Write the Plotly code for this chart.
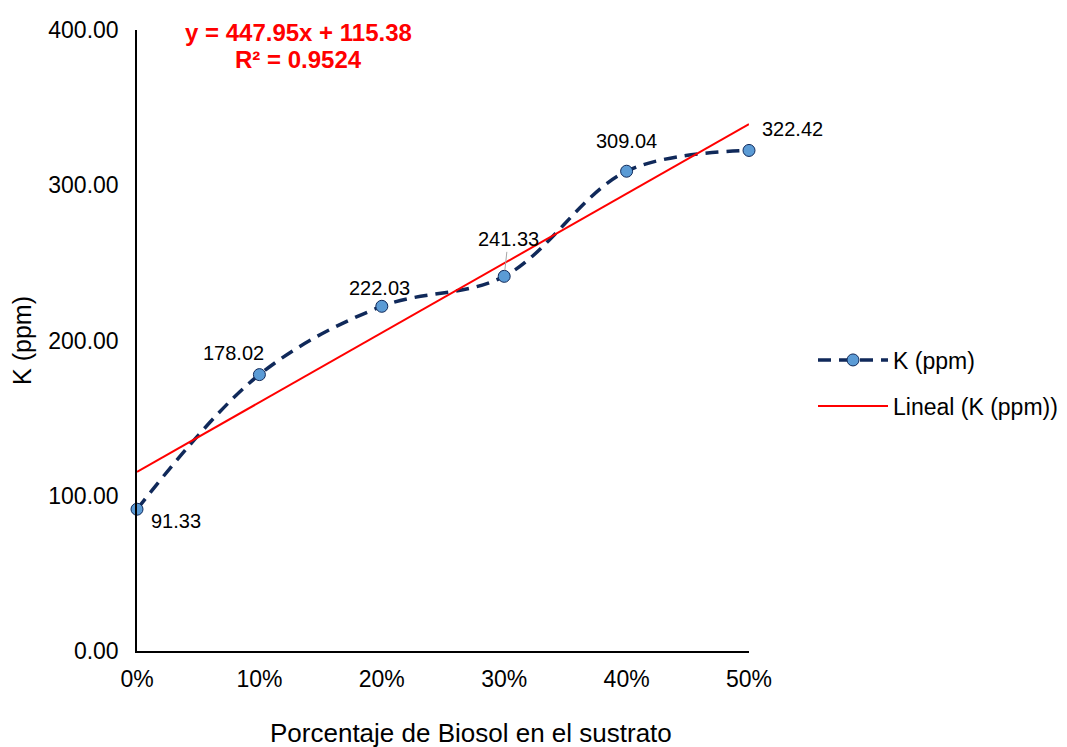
import plotly.graph_objects as go

# Data: potassium content vs. Biosol percentage in the substrate
biosol_pct = [0.0, 0.1, 0.2, 0.3, 0.4, 0.5]
k_ppm = [91.33, 178.02, 222.03, 241.33, 309.04, 322.42]
x_ticks = [0.0, 0.1, 0.2, 0.3, 0.4, 0.5]
y_ticks = [0, 100, 200, 300, 400]

# Linear trend reported on the chart
slope = 447.95
intercept = 115.38
r_squared = 0.9524

trend_x = [biosol_pct[0], biosol_pct[-1]]
trend_y = [slope * v + intercept for v in trend_x]

NAVY = "#10295A"
MARKER = "#5B9BD5"
RED = "#FF0000"
FONT = "Liberation Sans, Arial, sans-serif"

fig = go.Figure()

fig.add_trace(go.Scatter(
    x=biosol_pct, y=k_ppm, mode="lines+markers", name="K (ppm)",
    line=dict(color=NAVY, width=3.5, dash="13px,8px", shape="spline", smoothing=1.0),
    marker=dict(color=MARKER, size=12, line=dict(color=NAVY, width=1)),
    cliponaxis=False, legend="legend",
))

fig.add_trace(go.Scatter(
    x=trend_x, y=trend_y, mode="lines", name="Lineal (K (ppm))",
    line=dict(color=RED, width=2), cliponaxis=False, legend="legend2",
))

# Data labels: (x shift, y shift) per point; the 30% label has a leader line
label_offsets = [(39, -12), (-26, 22), (-2, 18), (4, 37), (0, 30), (43, 21)]
for i, (xv, yv, (dx, dy)) in enumerate(zip(biosol_pct, k_ppm, label_offsets)):
    if i == 3:
        fig.add_annotation(
            x=xv, y=yv, text=f"{yv:.2f}", showarrow=True, arrowhead=0,
            arrowcolor="#A6A6A6", arrowwidth=1, ax=dx, ay=-dy, standoff=6,
            font=dict(family=FONT, size=20, color="#000000"),
        )
    else:
        fig.add_annotation(
            x=xv, y=yv, text=f"{yv:.2f}", showarrow=False,
            xshift=dx, yshift=dy,
            font=dict(family=FONT, size=20, color="#000000"),
        )

# Trendline equation, two lines
eq_lines = [f"<b>y = {slope:.2f}x + {intercept:.2f}</b>", f"<b>R² = {r_squared:.4f}</b>"]
for text, ypos in zip(eq_lines, [0.9952, 0.9517]):
    fig.add_annotation(
        xref="paper", yref="paper", x=0.2647, y=ypos, xanchor="center", yanchor="middle",
        text=text, showarrow=False,
        font=dict(family=FONT, size=24, color=RED),
    )

# Horizontal axis title
fig.add_annotation(
    xref="paper", yref="paper", x=0.545, y=-0.132, xanchor="center", yanchor="middle",
    text="Porcentaje de Biosol en el sustrato", showarrow=False,
    font=dict(family=FONT, size=26, color="#000000"),
)

LEG_X = 813 / 1067

fig.update_layout(
    width=1067, height=747,
    margin=dict(l=137, r=318, t=30, b=96),
    paper_bgcolor="white", plot_bgcolor="white",
    font=dict(family=FONT, color="#000000"),
    xaxis=dict(
        range=[0, 0.5], tickvals=x_ticks, tickformat=".0%", automargin=False,
        showgrid=False, zeroline=False, showline=True, linecolor="#000000", linewidth=1.5,
        ticks="", ticklabelstandoff=7,
        tickfont=dict(family=FONT, size=23),
    ),
    yaxis=dict(
        range=[0, 400], tickvals=y_ticks, tickformat=".2f", automargin=False,
        showgrid=False, zeroline=False, showline=True, linecolor="#000000", linewidth=1.5,
        ticks="", ticklabelstandoff=12,
        tickfont=dict(family=FONT, size=23),
        title=dict(text="K (ppm)", font=dict(family=FONT, size=25), standoff=10),
    ),
    legend=dict(xref="container", x=LEG_X, y=0.4686, xanchor="left", yanchor="middle",
                font=dict(family=FONT, size=23), bgcolor="rgba(0,0,0,0)", itemwidth=70),
    legend2=dict(xref="container", x=LEG_X, y=0.3945, xanchor="left", yanchor="middle",
                 font=dict(family=FONT, size=23), bgcolor="rgba(0,0,0,0)", itemwidth=70),
    showlegend=True,
)

fig.write_html("out.html")
